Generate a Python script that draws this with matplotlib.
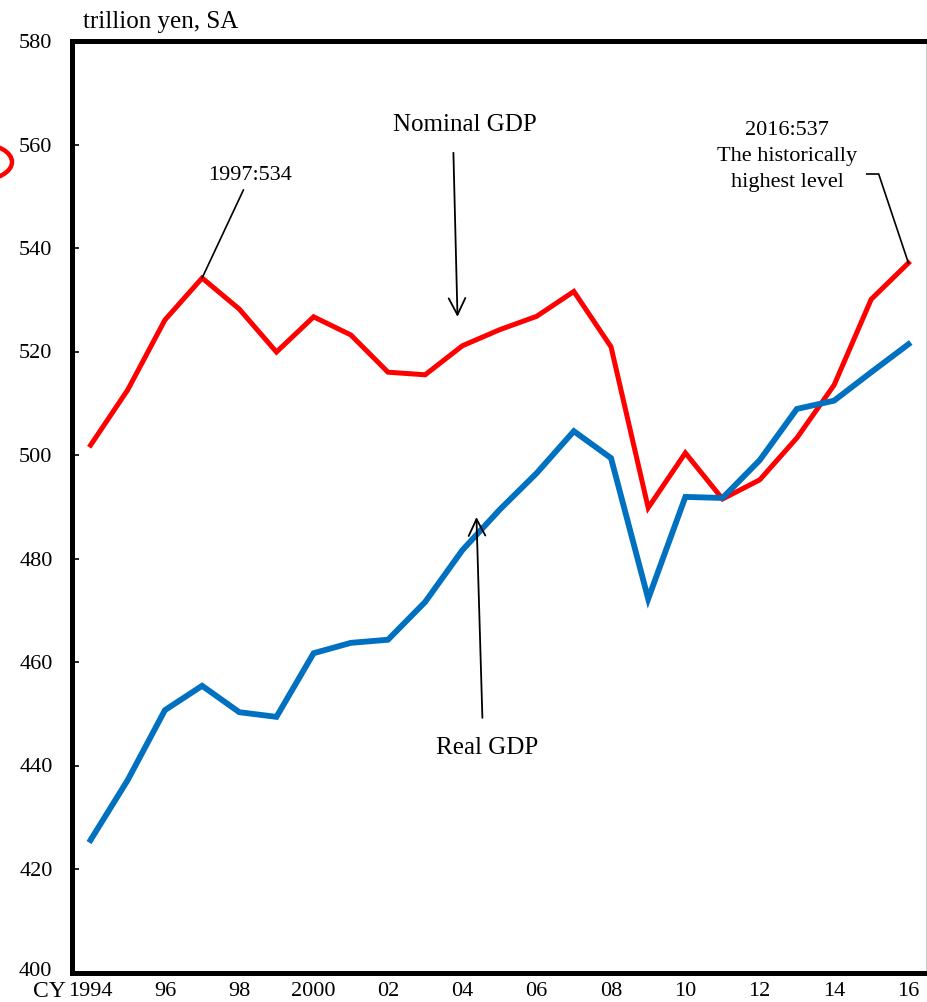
import matplotlib
matplotlib.use("Agg")
import matplotlib.pyplot as plt
from matplotlib.patches import Ellipse

plt.rcParams['font.family'] = ['Liberation Serif', 'DejaVu Serif']

years = list(range(1994, 2017))
nominal_gdp = [501.9, 512.6, 526.1, 534.2, 528.2, 519.9, 526.7, 523.2, 516.0, 515.5,
               521.1, 524.2, 526.8, 531.6, 520.9, 489.8, 500.4, 491.5, 495.2, 503.3,
               513.5, 530.1, 537.1]
real_gdp = [425.6, 437.2, 450.7, 455.4, 450.3, 449.4, 461.7, 463.7, 464.3, 471.6,
            481.6, 489.4, 496.5, 504.6, 499.4, 472.2, 491.9, 491.7, 499.0, 508.9,
            510.5, 516.0, 521.4]
xtick_years = [1994, 1996, 1998, 2000, 2002, 2004, 2006, 2008, 2010, 2012, 2014, 2016]
xtick_labels = ['1994', '96', '98', '2000', '02', '04', '06', '08', '10', '12', '14', '16']
yticks = list(range(400, 581, 20))

fig = plt.figure(figsize=(9.28, 10.02), dpi=100)
ax = fig.add_axes([72/928, 1-972.5/1002, (927-72)/928, (972.5-41)/1002])

ax.plot(years, nominal_gdp, color='#FF0000', lw=3.6, solid_joinstyle='miter', zorder=3)
ax.plot(years, real_gdp, color='#0070C0', lw=4.2, solid_joinstyle='miter', zorder=3)

ax.set_xlim(1993.5, 2016.5)
ax.set_ylim(400, 580)
ax.set_yticks(yticks)
# the bottom label (400) is drawn separately, nudged up like in the original
ax.set_yticklabels(['' if v == yticks[0] else str(v) for v in yticks])
ax.set_xticks(xtick_years)
ax.set_xticklabels(xtick_labels)
ax.tick_params(axis='y', direction='in', length=5, width=1.2, labelsize=16, pad=14)
ax.tick_params(axis='x', length=0, labelsize=16, pad=7)

ax.annotate(str(yticks[0]), xy=(0, yticks[0]), xycoords=('axes fraction', 'data'),
            xytext=(-14.4, 2.5), textcoords='offset points',
            ha='right', va='center_baseline', fontsize=16)

for s in ['left', 'bottom', 'top']:
    ax.spines[s].set_linewidth(3.6)
ax.spines['right'].set_linewidth(1.0)

# "CY" prefix before first x label
ax.text(1994 - 0.66, -0.0258, 'CY', transform=ax.get_xaxis_transform(),
        ha='right', va='baseline', fontsize=17)

# unit label
fig.text(83/928, 1-22/1002, 'trillion yen, SA', ha='left', va='center', fontsize=18)

# annotations
ax.annotate('1997:534', xy=(1997, 534.2), xytext=(1998.30, 554.1),
            ha='center', va='center', fontsize=16,
            arrowprops=dict(arrowstyle='-', color='black', lw=1.2, shrinkA=2, shrinkB=0))

ax.text(2004.06, 563.7, 'Nominal GDP', ha='center', va='center', fontsize=18)
ax.annotate('', xy=(2003.87, 526.7), xytext=(2003.76, 558.4),
            arrowprops=dict(arrowstyle='->', color='black', lw=1.3,
                            mutation_scale=30, shrinkA=0, shrinkB=0))

ax.text(2004.66, 443.3, 'Real GDP', ha='center', va='center', fontsize=18)
ax.annotate('', xy=(2004.38, 488.0), xytext=(2004.54, 449.2),
            arrowprops=dict(arrowstyle='->', color='black', lw=1.3,
                            mutation_scale=30, shrinkA=0, shrinkB=0))

ax.text(2012.74, 557.6, '2016:537\nThe historically\nhighest level',
        ha='center', va='center', fontsize=16, linespacing=1.5)
ax.plot([2014.88, 2015.20, 2016], [554.3, 554.3, 537.1], color='black', lw=1.2,
        zorder=4, clip_on=False)

# hand-drawn red mark partially visible at left edge
fig.add_artist(Ellipse((-20/928, 1-162/1002), 64/928, 36/1002,
                       transform=fig.transFigure, fill=False,
                       edgecolor='#FF0000', lw=3.2))

fig.savefig('out.png', dpi=100)
